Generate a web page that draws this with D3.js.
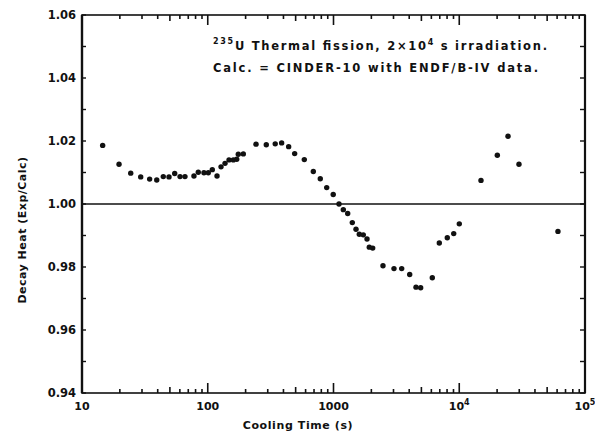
<!DOCTYPE html>
<html>
<head>
<meta charset="utf-8">
<script src="https://cdn.jsdelivr.net/npm/d3@7"></script>
<style>
  body { margin: 0; background: #fff; }
  text { font-family: "DejaVu Sans", sans-serif; font-weight: bold; fill: #111; }
</style>
</head>
<body>
<div class="chart"></div>
<script>
// cooling time (s) and ratio Exp/Calc
var coolingTimes = [14.6, 19.7, 24.4, 29.3, 34.5, 39.3, 44.3, 49.2, 54.6, 60.2,
    65.9, 77.7, 84.1, 93.3, 101, 108.7, 118.5, 127.5, 137.2, 147.6,
    159.7, 170, 175, 191.8, 242, 292, 344, 387, 440, 491,
    586, 691, 785, 883, 995, 1106, 1197, 1297, 1411, 1510,
    1604, 1726, 1847, 1926, 2050, 2475, 3027, 3486, 4036, 4530,
    4935, 6106, 6940, 8035, 9036, 10010, 14890, 20080, 24420, 29850, 60950]
var ratios = [1.0186, 1.0126, 1.0098, 1.0086, 1.0079, 1.0076, 1.0087, 1.0086, 1.0097, 1.0087,
    1.0087, 1.0089, 1.0101, 1.0099, 1.0099, 1.0109, 1.0089, 1.0118, 1.0129, 1.0140,
    1.0140, 1.0142, 1.0158, 1.0159, 1.0190, 1.0188, 1.0191, 1.0194, 1.0182, 1.0160,
    1.0141, 1.0103, 1.0080, 1.0052, 1.0030, 1.0000, 0.9982, 0.9970, 0.9941, 0.9920,
    0.9904, 0.9902, 0.9889, 0.9863, 0.9860, 0.9804, 0.9795, 0.9795, 0.9776, 0.9736,
    0.9734, 0.9766, 0.9876, 0.9893, 0.9906, 0.9937, 1.0075, 1.0155, 1.0215, 1.0126, 0.9913]
var yTicks = [0.94, 0.96, 0.98, 1.00, 1.02, 1.04, 1.06]
var xTicks = [10, 100, 1000, 1e4, 1e5]
var xTickLabels = ["10", "100", "1000", "10^4", "10^5"]
var noteLines = ["235|U Thermal fission, 2\u00d710^4 s irradiation.", "Calc. = CINDER-10 with ENDF/B-IV data."]

var W = 595, H = 439
var m = { left: 82, right: 10, top: 15, bottom: 46 }

var svg = d3.select(".chart").append("svg")
    .attr("width", W).attr("height", H)

var x = d3.scaleLog().domain([10, 1e5]).range([m.left, W - m.right])
var y = d3.scaleLinear().domain([0.94, 1.06]).range([H - m.bottom, m.top])

var g = svg.append("g")

// minor / major ticks for log axis
var logTicks = []
for (var e = 1; e < 5; e++) {
    for (var k = 1; k < 10; k++) logTicks.push(k * Math.pow(10, e))
}
logTicks.push(1e5)

function tickLen(v) {
    var k = Math.round(v / Math.pow(10, Math.floor(Math.log10(v) + 1e-9)))
    if (k === 1) return 10
    if (k === 5) return 6
    return 4
}

// bottom ticks (inward)
g.selectAll("line.bt").data(logTicks).enter().append("line")
    .attr("x1", d => x(d)).attr("x2", d => x(d))
    .attr("y1", y(0.94)).attr("y2", d => y(0.94) - tickLen(d))
    .attr("stroke", "#111").attr("stroke-width", 1.6)
// top ticks
g.selectAll("line.tt").data(logTicks).enter().append("line")
    .attr("x1", d => x(d)).attr("x2", d => x(d))
    .attr("y1", y(1.06)).attr("y2", d => y(1.06) + tickLen(d))
    .attr("stroke", "#111").attr("stroke-width", 1.6)

var yMinor = d3.range(0.94, 1.0601, 0.01)
g.selectAll("line.lt").data(yMinor).enter().append("line")
    .attr("x1", m.left).attr("x2", m.left + 4)
    .attr("y1", d => y(d)).attr("y2", d => y(d))
    .attr("stroke", "#111").attr("stroke-width", 1.4)
g.selectAll("line.rt").data(yMinor).enter().append("line")
    .attr("x1", W - m.right).attr("x2", W - m.right - 5)
    .attr("y1", d => y(d)).attr("y2", d => y(d))
    .attr("stroke", "#111").attr("stroke-width", 1.4)

// frame
g.append("rect")
    .attr("x", m.left).attr("y", m.top)
    .attr("width", W - m.left - m.right).attr("height", H - m.top - m.bottom)
    .attr("fill", "none").attr("stroke", "#111").attr("stroke-width", 1.6)
g.append("line")
    .attr("x1", m.left).attr("x2", m.left)
    .attr("y1", m.top).attr("y2", H - m.bottom)
    .attr("stroke", "#111").attr("stroke-width", 2.4)
g.append("line")
    .attr("x1", W - m.right).attr("x2", W - m.right)
    .attr("y1", m.top).attr("y2", H - m.bottom)
    .attr("stroke", "#111").attr("stroke-width", 2.2)

// reference line at 1.00
g.append("line")
    .attr("x1", m.left).attr("x2", W - m.right)
    .attr("y1", y(1.0)).attr("y2", y(1.0))
    .attr("stroke", "#111").attr("stroke-width", 1.3)

// y tick labels
g.selectAll("text.yl").data(yTicks).enter().append("text")
    .attr("x", m.left - 6).attr("y", d => y(d) + 4)
    .attr("text-anchor", "end").attr("font-size", 11.5)
    .text(d => d.toFixed(2))

// x tick labels (with superscript for powers)
xTicks.forEach(function (t, i) {
    var lab = xTickLabels[i].split("^")
    var tx = g.append("text")
        .attr("x", x(t)).attr("y", H - m.bottom + 17)
        .attr("text-anchor", "middle").attr("font-size", 11)
    tx.append("tspan").text(lab[0])
    if (lab[1]) tx.append("tspan").attr("dy", -5).attr("font-size", 8).text(lab[1])
})

// axis titles
svg.append("text")
    .attr("x", 298).attr("y", 429)
    .attr("text-anchor", "middle").attr("font-size", 11)
    .style("letter-spacing", "0.6px")
    .text("Cooling Time (s)")
svg.append("text")
    .attr("transform", "translate(26,230) rotate(-90)")
    .attr("text-anchor", "middle").attr("font-size", 11)
    .style("letter-spacing", "0.5px")
    .text("Decay Heat (Exp/Calc)")

// note, stretched to the widths of the original lettering
var noteWidths = [334, 325]
noteLines.forEach(function (line, i) {
    var t = svg.append("text")
        .attr("x", 213).attr("y", 50 + i * 22)
        .attr("font-size", 11.5)
        .attr("textLength", noteWidths[i]).attr("lengthAdjust", "spacing")
    var parts = line.split("|")
    var dyNext = 0
    if (parts.length > 1) {
        t.append("tspan").attr("font-size", 8).attr("dy", -6).text(parts[0])
        dyNext = 6
        line = parts[1]
    }
    var sp = line.split("^")
    t.append("tspan").attr("dy", dyNext).text(sp[0])
    if (sp.length > 1) {
        t.append("tspan").attr("font-size", 8).attr("dy", -5).text(sp[1].slice(0, 1))
        t.append("tspan").attr("dy", 5).text(sp[1].slice(1))
    }
})

// data points
var pts = coolingTimes.map((t, i) => ({ t: t, r: ratios[i] }))
g.selectAll("circle.pt").data(pts).enter().append("circle")
    .attr("cx", d => x(d.t)).attr("cy", d => y(d.r))
    .attr("r", 2.7).attr("fill", "#111")
</script>
</body>
</html>
